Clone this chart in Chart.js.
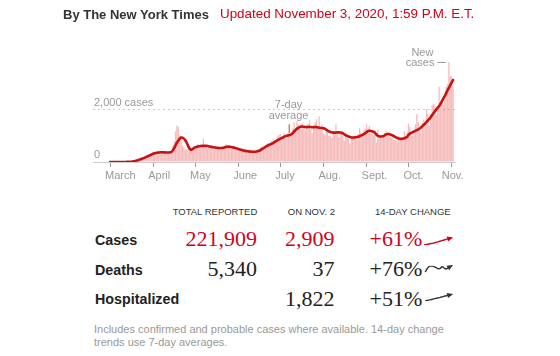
<!DOCTYPE html>
<html><head><meta charset="utf-8">
<script src="https://cdn.jsdelivr.net/npm/chart.js@4/dist/chart.umd.min.js"></script>
<style>
html,body{margin:0;padding:0;background:#fff;}
body{width:560px;height:356px;position:relative;overflow:hidden;font-family:"Liberation Sans",Arial,sans-serif;}
.t{position:absolute;white-space:nowrap;line-height:1;}
.hd{font-size:9.5px;color:#333;}
.lab{font-size:14.3px;font-weight:bold;color:#222;left:95px;}
.num{font-family:"Liberation Serif","Times New Roman",serif;font-size:22px;color:#222;}
.r{text-align:right;width:120px;}
.red{color:#d0021b;}
canvas{position:absolute;}
</style></head><body>
<canvas id="main" width="560" height="190" style="left:0;top:0"></canvas>
<div class="t" style="left:63px;top:7.5px;font-size:13px;font-weight:bold;color:#333">By The New York Times</div>
<div class="t" style="left:220px;top:7.4px;font-size:13.4px;color:#d0021b">Updated November 3, 2020, 1:59 P.M. E.T.</div>

<div class="t hd r" style="left:137.3px;top:207px">TOTAL REPORTED</div>
<div class="t hd r" style="left:215px;top:207px">ON NOV. 2</div>
<div class="t hd" style="left:375px;top:207px">14-DAY CHANGE</div>

<div class="t lab" style="top:232.9px">Cases</div>
<div class="t lab" style="top:262.9px">Deaths</div>
<div class="t lab" style="top:292.2px">Hospitalized</div>

<div class="t num r red" style="left:137px;top:228px">221,909</div>
<div class="t num r red" style="left:214.5px;top:228px">2,909</div>
<div class="t num red" style="left:369.5px;top:228px">+61%</div>

<div class="t num r" style="left:137px;top:257.5px">5,340</div>
<div class="t num r" style="left:214.5px;top:257.5px">37</div>
<div class="t num" style="left:369.5px;top:257.5px">+76%</div>

<div class="t num r" style="left:214.5px;top:287.5px">1,822</div>
<div class="t num" style="left:369.5px;top:287.5px">+51%</div>

<canvas id="sCases" width="44" height="24" style="left:416px;top:230px"></canvas>
<canvas id="sDeaths" width="44" height="24" style="left:416px;top:258px"></canvas>
<canvas id="sHosp" width="44" height="24" style="left:416px;top:286px"></canvas>

<div class="t" style="left:94px;top:323.1px;font-size:11px;line-height:12.4px;color:#999">Includes confirmed and probable cases where available. 14-day change<br>trends use 7-day averages.</div>

<script>
// Day 0 = March 1, 2020; last day = Nov 2, 2020
const monthTicks = [0, 31, 61, 92, 122, 153, 184, 214, 245];
const monthLabels = ['March', 'April', 'May', 'June', 'July', 'Aug.', 'Sept.', 'Oct.', 'Nov.'];
const yTickValues = [0, 2000];
const yTickLabels = ['0', '2,000 cases'];

const dailyMarch = [0,0,0,0,0,0,0,0,0,3,1,2,8,13,11,15,20,35,50,70,110,120,150,160,190,210,240,260,280,300,330];
const dailyApril = [380,350,420,390,370,340,360,410,390,350,380,330,400,420,610,800,1180,1400,1350,1020,880,620,560,480,470,500,430,520,560,610];
const dailyMay = [580,640,700,560,530,590,900,640,600,520,560,610,650,540,480,520,580,570,500,460,540,620,700,650,600,570,520,540,610,480,470];
const dailyJune = [450,520,470,430,510,400,380,360,440,420,390,410,370,350,460,500,560,610,530,580,670,720,620,700,810,890,760,850,980,1030];
const dailyJuly = [1080,860,950,1120,900,1050,1430,1040,1000,1290,1520,1280,1560,1440,1300,1250,1490,1330,1200,1390,1460,1600,1250,1110,1380,1520,1650,1300,1750,1240,1430];
const dailyAug = [1100,1050,1190,1260,1000,1020,930,1210,1150,1440,1120,950,1080,1190,1000,820,1020,1100,890,700,1000,980,950,1030,850,1080,1300,1130,1050,1210,1280];
const dailySept = [1450,1300,1380,1090,1150,1020,1200,740,1250,1030,1000,900,960,1120,1200,1080,1050,980,930,900,850,820,790,1000,850,880,940,1180,1020,1130];
const dailyOct = [1480,1350,1050,1010,1150,1450,1840,1550,1250,1100,1500,1630,1500,2040,1840,1390,1830,2180,2230,2160,1800,2020,2880,2300,2400,2200,2500,2900,3000,3850,3300];
const dailyNov = [3300,2909];

const avgMarch = [0,0,0,0,0,0,0,0,0,1,1,2,3,5,8,12,18,28,40,55,70,88,105,125,148,170,195,220,245,270,295];
const avgApril = [318,335,350,360,368,372,374,372,370,368,366,366,370,385,440,530,640,740,830,900,940,935,900,840,740,620,520,470,490,530];
const avgMay = [560,580,595,605,615,620,622,622,620,612,600,590,578,570,560,550,545,540,537,540,548,560,575,585,590,585,575,563,550,535,518];
const avgJune = [500,485,470,455,440,428,418,410,403,398,395,394,396,405,418,432,460,495,530,565,600,628,655,680,705,730,765,800,835,865];
const avgJuly = [890,915,945,975,995,1010,1025,1040,1060,1110,1170,1230,1275,1310,1340,1360,1365,1355,1345,1340,1345,1350,1345,1335,1340,1345,1340,1330,1320,1310,1305];
const avgAug = [1300,1280,1245,1210,1180,1155,1140,1130,1128,1132,1138,1140,1135,1125,1100,1065,1030,1005,980,960,945,940,945,950,955,970,990,1015,1045,1070,1110];
const avgSept = [1150,1185,1200,1195,1180,1165,1120,1060,1010,990,980,985,995,1030,1065,1080,1078,1060,1035,1010,980,950,925,905,893,890,895,910,935,965];
const avgOct = [1040,1090,1120,1150,1175,1200,1225,1255,1290,1330,1380,1430,1480,1540,1600,1660,1730,1810,1880,1950,2020,2090,2150,2240,2340,2440,2535,2640,2760,2850,2960];
const avgNov = [3060,3150];

const trendCases = [1880,1950,2020,2090,2150,2240,2340,2440,2535,2640,2760,2850,2960,3060,3150];
const trendDeaths = [13,18,21.5,22.5,22.5,21.3,19.8,18.3,18.8,21.5,19.5,18,19.5,21.8,23];
const trendHosp = [1207,1250,1290,1330,1370,1420,1460,1500,1540,1590,1640,1690,1730,1780,1822];

const daily = [].concat(dailyMarch, dailyApril, dailyMay, dailyJune, dailyJuly, dailyAug, dailySept, dailyOct, dailyNov);
const avg = [].concat(avgMarch, avgApril, avgMay, avgJune, avgJuly, avgAug, avgSept, avgOct, avgNov);
const avgNoteDay = 128;
const peakDay = 243;

const annot = {
  id: 'annot',
  afterDraw(chart) {
    const {ctx, scales: {x}} = chart;
    ctx.save();
    ctx.font = '11px "Liberation Sans"';
    ctx.fillStyle = '#999';
    ctx.textBaseline = 'middle';
    monthTicks.forEach((d, i) => {
      const px = x.getPixelForValue(d);
      if (i === monthTicks.length - 1) { ctx.textAlign = 'center'; ctx.fillText(monthLabels[i], px + 1, 176); }
      else { ctx.textAlign = 'left'; ctx.fillText(monthLabels[i], px - 5, 176); }
    });
    const ax = x.getPixelForValue(avgNoteDay);
    ctx.textAlign = 'center';
    ctx.fillText('7-day', ax, 105);
    ctx.fillText('average', ax, 116);
    ctx.strokeStyle = '#999'; ctx.lineWidth = 1;
    ctx.beginPath(); ctx.moveTo(Math.round(ax) + 0.5, 124); ctx.lineTo(Math.round(ax) + 0.5, 133); ctx.stroke();
    const nx = x.getPixelForValue(peakDay);
    ctx.textAlign = 'right';
    ctx.fillText('New', nx - 15.5, 52.5);
    ctx.fillText('cases', nx - 14.5, 63.3);
    ctx.beginPath(); ctx.moveTo(nx - 11.5, 62.5); ctx.lineTo(nx - 3, 62.5); ctx.stroke();
    ctx.restore();
  }
};

new Chart(document.getElementById('main'), {
  type: 'bar',
  data: {
    datasets: [
      { type: 'line', data: avg.map((v, i) => ({x: i, y: v})), borderColor: '#c81212', borderWidth: 2.6,
        pointRadius: 0, tension: 0.35, order: 0, borderCapStyle: 'round', borderJoinStyle: 'round' },
      { type: 'bar', data: daily.map((v, i) => ({x: i, y: v})), backgroundColor: 'rgba(238,120,120,0.5)',
        barPercentage: 1, categoryPercentage: 0.92, order: 1 }
    ]
  },
  options: {
    responsive: false, animation: false, events: [],
    layout: { padding: { left: 93, right: 105, top: 40, bottom: 23 } },
    plugins: { legend: { display: false }, tooltip: { enabled: false } },
    scales: {
      x: {
        type: 'linear', min: -12.19, max: 247.37, offset: false,
        afterBuildTicks: s => { s.ticks = monthTicks.map(v => ({value: v})); },
        afterFit: s => { s.height = 5; },
        ticks: { display: false },
        grid: { offset: false, drawOnChartArea: false, drawTicks: true, tickLength: 5, color: '#999' },
        border: { display: true, color: '#ccc' }
      },
      y: {
        min: 0, max: 4692,
        afterBuildTicks: s => { s.ticks = yTickValues.map(v => ({value: v})); },
        afterFit: s => { s.width = 0; },
        ticks: { mirror: true, padding: 1, labelOffset: -7, color: '#999',
          font: { family: 'Liberation Sans', size: 11 },
          callback: v => yTickLabels[yTickValues.indexOf(v)] },
        grid: { drawTicks: false, color: c => (c.tick && c.tick.value === 2000) ? '#ccc' : 'rgba(0,0,0,0)' },
        border: { display: false, dash: [2, 3] }
      }
    }
  },
  plugins: [annot]
});

const arrowHead = {
  id: 'arrowHead',
  afterDatasetsDraw(chart) {
    const pts = chart.getDatasetMeta(0).data;
    const p = pts[pts.length - 1], q = pts[pts.length - 3];
    const ang = Math.atan2(p.y - q.y, p.x - q.x);
    const ctx = chart.ctx;
    ctx.save();
    ctx.translate(p.x, p.y); ctx.rotate(ang);
    ctx.beginPath(); ctx.moveTo(1.5, 0); ctx.lineTo(-4.5, -2.6); ctx.lineTo(-4.5, 2.6); ctx.closePath();
    ctx.fillStyle = chart.data.datasets[0].borderColor; ctx.fill();
    ctx.restore();
  }
};

function spark(id, data, color, pad) {
  new Chart(document.getElementById(id), {
    type: 'line',
    data: { labels: data.map((_, i) => i), datasets: [{ data, borderColor: color, borderWidth: 1.4, pointRadius: 0, tension: 0.4, fill: false }] },
    options: {
      responsive: false, animation: false, events: [],
      layout: { padding: pad },
      plugins: { legend: { display: false }, tooltip: { enabled: false } },
      scales: { x: { display: false }, y: { display: false, min: Math.min(...data), max: Math.max(...data) } }
    },
    plugins: [arrowHead]
  });
}
spark('sCases', trendCases, '#d0021b', { left: 8, right: 8.3, top: 7.8, bottom: 9 });
spark('sDeaths', trendDeaths, '#333', { left: 9, right: 8.3, top: 7.7, bottom: 9.7 });
spark('sHosp', trendHosp, '#333', { left: 9, right: 8.3, top: 8.3, bottom: 9 });
</script>
</body></html>
